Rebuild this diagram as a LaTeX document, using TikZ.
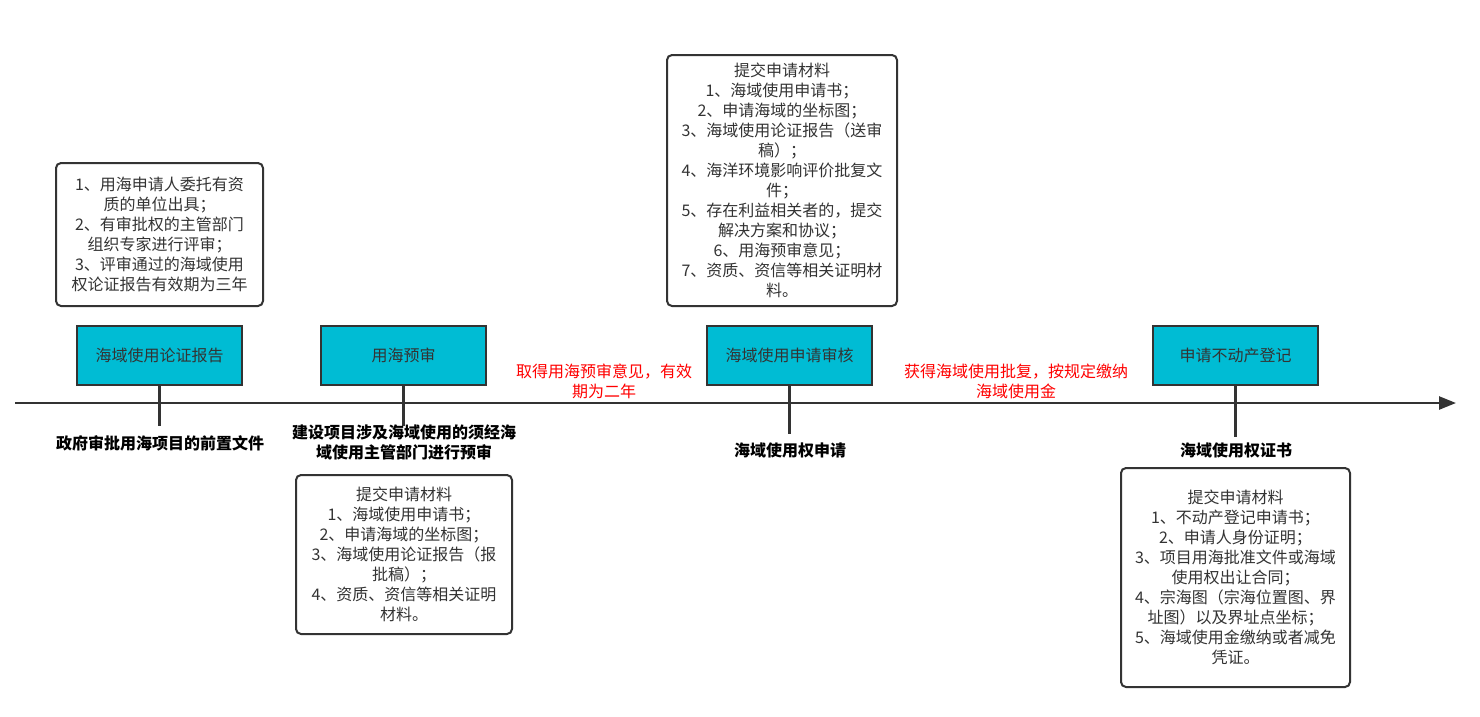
\documentclass[tikz,border=0pt]{standalone}
\usepackage{fontspec}
\newfontfamily\cjk{Noto Sans CJK SC}
\usetikzlibrary{arrows.meta}
\definecolor{stagecyan}{HTML}{00BCD4}
\definecolor{linegray}{HTML}{333333}

\begin{document}
\begin{tikzpicture}[
    x=1pt, y=-1pt,
    every node/.style={font=\cjk\fontsize{16}{20}\selectfont, align=center, inner sep=0pt},
    stage box/.style={draw=linegray, line width=2.5pt, fill=stagecyan, text=linegray, minimum width=165pt, minimum height=59pt},
    note box/.style={draw=linegray, line width=2pt, rounded corners=5pt, fill=white, text=linegray},
    stage label/.style={font=\cjk\bfseries\fontsize{16}{20}\selectfont, text=black},
    gap label/.style={text=red},
    time line/.style={line width=2.5pt, draw=linegray}
]
    \useasboundingbox (0,0) rectangle (1480,716);

    % Time line
    \coordinate (tl start) at (15,403);
    \coordinate (tl end) at (1456,403);
    \draw[time line, -{Triangle[length=17pt,width=13pt]}] (tl start) -- (tl end);

    % Stages
    \node[stage box] (report) at (159.5,355.5) {海域使用论证报告};
    \node[stage box] (pre) at (403.5,355.5) {用海预审};
    \node[stage box] (review) at (789.5,355.5) {海域使用申请审核};
    \node[stage box] (register) at (1235.5,355.5) {申请不动产登记};

    % Stems
    \coordinate (report foot) at (159.5,426);
    \coordinate (pre foot) at (403.5,426);
    \coordinate (review foot) at (789.5,434);
    \coordinate (register foot) at (1235.5,437);
    \draw[time line] (report.south) -- (report foot);
    \draw[time line] (pre.south) -- (pre foot);
    \draw[time line] (review.south) -- (review foot);
    \draw[time line] (register.south) -- (register foot);

    % Stage results
    \node[stage label] (report goal) at (160,443) {政府审批用海项目的前置文件};
    \node[stage label] (pre goal) at (404,442) {建设项目涉及海域使用的须经海\\域使用主管部门进行预审};
    \node[stage label] (review goal) at (790,450) {海域使用权申请};
    \node[stage label] (register goal) at (1236,450) {海域使用权证书};

    % Notes between stages
    \node[gap label] (pre gap) at (604,381) {取得用海预审意见，有效\\期为二年};
    \node[gap label] (review gap) at (1016,381) {获得海域使用批复，按规定缴纳\\海域使用金};

    % Material boxes
    \node[note box, minimum width=207pt, minimum height=143pt] (report note) at (159.5,234.5)
        {1、用海申请人委托有资\\质的单位出具；\\2、有审批权的主管部门\\组织专家进行评审；\\3、评审通过的海域使用\\权论证报告有效期为三年};
    \node[note box, minimum width=216pt, minimum height=159pt] (pre note) at (404,554.5)
        {提交申请材料\\1、海域使用申请书；\\2、申请海域的坐标图；\\3、海域使用论证报告（报\\批稿）；\\4、资质、资信等相关证明\\材料。};
    \node[note box, minimum width=230pt, minimum height=251pt] (review note) at (782,180.5)
        {提交申请材料\\1、海域使用申请书；\\2、申请海域的坐标图；\\3、海域使用论证报告（送审\\稿）；\\4、海洋环境影响评价批复文\\件；\\5、存在利益相关者的，提交\\解决方案和协议；\\6、用海预审意见；\\7、资质、资信等相关证明材\\料。};
    \node[note box, minimum width=229pt, minimum height=219pt] (register note) at (1235.5,577.5)
        {提交申请材料\\1、不动产登记申请书；\\2、申请人身份证明；\\3、项目用海批准文件或海域\\使用权出让合同；\\4、宗海图（宗海位置图、界\\址图）以及界址点坐标；\\5、海域使用金缴纳或者减免\\凭证。};
\end{tikzpicture}
\end{document}
